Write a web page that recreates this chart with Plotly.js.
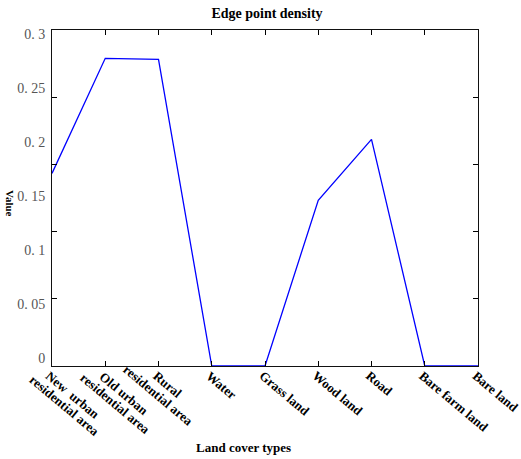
<!DOCTYPE html>
<html>
<head>
<meta charset="utf-8">
<script src="https://cdn.plot.ly/plotly-3.0.1.min.js"></script>
<style>html,body{margin:0;padding:0;background:#fff;} #chart{width:521px;height:459px;}</style>
</head>
<body>
<div id="chart"></div>
<script>
// ---- data ----
var categories = [
  "New  urban<br>residential area",
  "Old urban<br>residential area",
  "Rural<br>residential area",
  "Water",
  "Grass land",
  "Wood land",
  "Road",
  "Bare farm land",
  "Bare land"
];
var values = [0.172, 0.2747, 0.2738, 0, 0, 0.148, 0.2024, 0, 0];
var yTickVals = [0, 0.05, 0.1, 0.15, 0.2, 0.25, 0.3];
var yTickText = ["0", "0. 05", "0. 1", "0. 15", "0. 2", "0. 25", "0. 3"];
var yMarkVals = [0, 0.06, 0.12, 0.18, 0.24, 0.3];

var W = 521, H = 459;
var M = {l: 52, r: 43, t: 30, b: 93};
var plotW = W - M.l - M.r, plotH = H - M.t - M.b;

var labelFont = {family: "Liberation Serif, Times New Roman, serif", size: 13, color: "#000"};
var ang = 40 * Math.PI / 180, cs = Math.cos(ang), sn = Math.sin(ang);
var lh = 14;

var cvs = document.createElement("canvas");
var ctx = cvs.getContext("2d");
ctx.font = "bold 13px 'Liberation Serif'";

var annotations = [];
categories.forEach(function (cat, i) {
  var lines = cat.split("<br>");
  var w1 = ctx.measureText(lines[0]).width;
  // first line starts at the tick, following lines centered on it
  var gx = 1, gy = 3;
  var c1x = gx + cs * w1 / 2 - sn * lh / 2;
  var c1y = gy + sn * w1 / 2 + cs * lh / 2;
  lines.forEach(function (ln, k) {
    var cx = c1x - sn * lh * k;
    var cy = c1y + cs * lh * k;
    annotations.push({
      x: i, y: 0, xref: "x", yref: "paper",
      text: "<b>" + ln + "</b>", showarrow: false,
      textangle: 40, xanchor: "center", yanchor: "middle",
      xshift: cx, yshift: -cy, font: labelFont, borderpad: 0
    });
  });
});

annotations.push({
  text: "<b>Land cover types</b>", xref: "paper", yref: "paper",
  x: (243 - M.l) / plotW, y: -(447 - (H - M.b)) / plotH,
  xanchor: "center", yanchor: "middle", showarrow: false,
  font: {family: "Liberation Serif, serif", size: 13, color: "#000"}
});
annotations.push({
  text: "<b>Value</b>", xref: "paper", yref: "paper",
  x: (10 - M.l) / plotW, y: (H - M.b - 203) / plotH,
  xanchor: "center", yanchor: "middle", showarrow: false, textangle: 90,
  font: {family: "Liberation Serif, serif", size: 11, color: "#000"}
});

var traces = [
  {
    x: [categories[0]], y: [yTickVals[0]], yaxis: "y2", type: "scatter", mode: "markers",
    marker: {opacity: 0}, showlegend: false, hoverinfo: "skip"
  },
  {
    x: categories, y: values, type: "scatter", mode: "lines",
    line: {color: "#0000ff", width: 1.3}, showlegend: false, hoverinfo: "skip"
  }
];

var layout = {
  width: W, height: H,
  margin: M,
  paper_bgcolor: "#fff", plot_bgcolor: "rgba(0,0,0,0)",
  showlegend: false,
  title: {
    text: "<b>Edge point density</b>",
    x: 267 / W, xanchor: "center", y: 1 - 13 / H, yanchor: "middle",
    font: {family: "Liberation Serif, Times New Roman, serif", size: 14, color: "#000"}
  },
  xaxis: {
    type: "category", categoryarray: categories, range: [0, categories.length - 1],
    showticklabels: false, ticks: "inside", ticklen: 5, tickcolor: "#000",
    showline: true, linecolor: "#111", linewidth: 1, mirror: "ticks",
    showgrid: false, zeroline: false, fixedrange: true
  },
  yaxis: {
    range: [0, 0.3], tickvals: yMarkVals, showticklabels: false,
    ticks: "inside", ticklen: 5, tickcolor: "#000",
    showline: true, linecolor: "#111", linewidth: 1, mirror: "ticks",
    showgrid: false, zeroline: false
  },
  yaxis2: {
    range: [0, 0.3], domain: [8 / plotH, (H - M.b - 34) / plotH],
    anchor: "free", position: 0, side: "left",
    tickvals: yTickVals, ticktext: yTickText,
    ticks: "outside", ticklen: 4, tickcolor: "rgba(0,0,0,0)",
    showline: false, showgrid: false, zeroline: false,
    tickfont: {family: "Liberation Serif, serif", size: 14, color: "#555"}
  },
  annotations: annotations
};

Plotly.newPlot("chart", traces, layout, {displayModeBar: false, staticPlot: true});
</script>
</body>
</html>
